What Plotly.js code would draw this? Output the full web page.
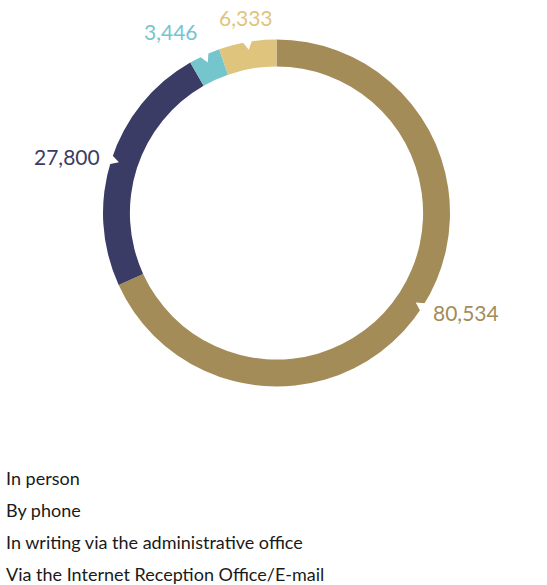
<!DOCTYPE html>
<html>
<head>
<meta charset="utf-8">
<script src="https://cdn.plot.ly/plotly-3.0.1.min.js"></script>
<style>html,body{margin:0;padding:0;background:#fff;}</style>
</head>
<body>
<div id="chart" style="width:547px;height:585px;"></div>
<script>
const categories = ["In person", "By phone", "In writing via the administrative office", "Via the Internet Reception Office/E-mail"];
const values = [80534, 27800, 3446, 6333];
const colors = ["#a38c58", "#3b3c66", "#74c6cc", "#dfc47d"];

const W = 547, H = 585;
// pie placement in pixels
const pieLeft = 103, pieRight = 450, pieTop = 39.5, pieBottom = 386.5;
const cx = (pieLeft + pieRight) / 2, cy = (pieTop + pieBottom) / 2, R = (pieRight - pieLeft) / 2;

const total = values.reduce((a, b) => a + b, 0);
const shapes = [];
const annotations = [];
const fmt = v => v.toLocaleString("en-US");
let acc = 0;
values.forEach((v, i) => {
  const mid = (acc + v / 2) / total * 2 * Math.PI;
  acc += v;
  const ux = Math.sin(mid), uy = -Math.cos(mid);
  const px = Math.cos(mid), py = Math.sin(mid);
  const tip = [cx + ux * (R - 8), cy + uy * (R - 8)];
  const b1 = [cx + ux * (R + 3) + px * 6, cy + uy * (R + 3) + py * 6];
  const b2 = [cx + ux * (R + 3) - px * 6, cy + uy * (R + 3) - py * 6];
  const P = p => (p[0] / W).toFixed(5) + "," + (1 - p[1] / H).toFixed(5);
  shapes.push({
    type: "path", xref: "paper", yref: "paper", layer: "above",
    path: "M" + P(tip) + " L" + P(b1) + " L" + P(b2) + " Z",
    fillcolor: "#ffffff", line: {width: 0}
  });
  // value label just outside the ring at the slice's mid angle
  const lx = cx + ux * (R + 10), ly = cy + uy * (R + 10);
  annotations.push({
    text: fmt(v), xref: "paper", yref: "paper",
    x: lx / W, y: 1 - ly / H,
    xanchor: ux > 0.3 ? "left" : (ux < -0.3 ? "right" : "center"),
    yanchor: uy < -0.6 ? "bottom" : (uy > 0.6 ? "top" : "middle"),
    showarrow: false,
    font: {family: "Lato, sans-serif", size: 21, color: colors[i]}
  });
});

const legendTop = 478, legendGap = 32;
categories.forEach((c, i) => annotations.push({
  text: c, xref: "paper", yref: "paper",
  x: 4 / W, y: 1 - (legendTop + i * legendGap) / H,
  xanchor: "left", yanchor: "middle", showarrow: false,
  font: {family: "Lato, sans-serif", size: 18, color: "#1a1a1a"}
}));

const trace = {
  type: "pie",
  labels: categories,
  values: values,
  sort: false,
  direction: "clockwise",
  rotation: 0,
  hole: 0.845,
  marker: {colors: colors, line: {width: 0}},
  textinfo: "none",
  domain: {x: [pieLeft / W, pieRight / W], y: [1 - pieBottom / H, 1 - pieTop / H]},
  showlegend: false,
  hoverinfo: "label+value"
};

const layout = {
  width: W, height: H,
  margin: {l: 0, r: 0, t: 0, b: 0},
  paper_bgcolor: "#ffffff",
  showlegend: false,
  shapes: shapes,
  annotations: annotations
};

Plotly.newPlot("chart", [trace], layout, {displayModeBar: false, staticPlot: true});
</script>
</body>
</html>
